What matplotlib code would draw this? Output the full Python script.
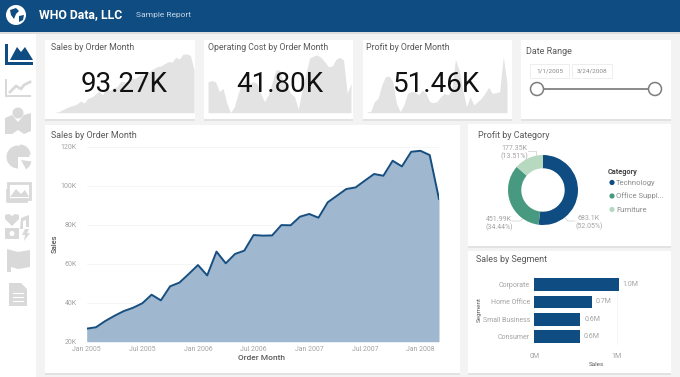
import matplotlib
matplotlib.use("Agg")
from matplotlib import pyplot as plt
from matplotlib.patches import Rectangle, Circle, Polygon, Wedge

plt.rcParams["font.family"] = ["Roboto", "DejaVu Sans"]

W, H = 680, 377
BLUE = "#0F4C81"
TITLE = "#5a5a5a"
TICK = "#a3a3a3"
ICON = "#d9d9d9"
SPARK = "#e3e3e3"

# monthly sales in thousands, Jan 2005 to Mar 2008
sales = [26.7, 27.4, 30.6, 33.3, 35.7, 37.4, 39.7, 44.1, 41.2, 48.4, 50.3, 54.7, 59.3,
         54.0, 66.2, 60.2, 65.0, 66.7, 74.7, 74.4, 74.5, 79.8, 79.7, 84.1, 85.5, 83.6,
         91.5, 94.9, 98.3, 99.1, 102.6, 106.0, 105.1, 112.8, 109.9, 117.4, 117.9, 115.7, 93.2]
# sparkline heights (no axis shown there)
cost = [93, 96, 93, 63, 73, 28, 0, 18, 58, 88, 98, 88, 93, 88, 58, 33, 53, 88, 128, 128,
        93, 78, 58, 48, 10, 68, 118, 163, 170, 173, 166, 153, 138, 140, 160, 166, 158, 58, 88]
profit = [2, 4, 33, 43, 83, 108, 110, 93, 28, 3, 23, 58, 63, 63, 53, 68, 58, 33, 30, 33,
          48, 58, 53, 68, 160, 128, 68, 18, 48, 23, 33, 43, 58, 76, 58, 60, 63, 168, 88]

kpi_titles = ["Sales by Order Month", "Operating Cost by Order Month", "Profit by Order Month"]
kpi_values = ["93.27K", "41.80K", "51.46K"]

month_ticks = [0, 6, 12, 18, 24, 30, 36]
month_labels = ["Jan 2005", "Jul 2005", "Jan 2006", "Jul 2006", "Jan 2007", "Jul 2007", "Jan 2008"]
sales_ticks = [20, 40, 60, 80, 100, 120]
sales_labels = ["20K", "40K", "60K", "80K", "100K", "120K"]

categories = ["Technology", "Office Suppl...", "Furniture"]
cat_profit = [683.1, 451.99, 177.35]
cat_colors = [BLUE, "#479A80", "#B7D9C0"]

segments = ["Corporate", "Home Office", "Small Business", "Consumer"]
seg_sales = [1.03, 0.70, 0.56, 0.55]
seg_labels = ["1.0M", "0.7M", "0.6M", "0.6M"]

fig = plt.figure(figsize=(W / 100, H / 100), dpi=100, facecolor="#f3f3f3")


def panel(x0, y0, x1, y1):
    # axes placed by pixel box, y measured from the top of the image
    a = fig.add_axes([x0 / W, 1 - y1 / H, (x1 - x0) / W, (y1 - y0) / H])
    a.patch.set_alpha(0)
    return a


bg = panel(0, 0, W, H)
bg.set_xlim(0, W)
bg.set_ylim(H, 0)
bg.axis("off")

# sidebar and header
bg.add_patch(Rectangle((0, 0), 36, H, fc="white", ec="none"))
bg.add_patch(Rectangle((0, 32), W, 2, fc="#dddddd", ec="none"))
bg.add_patch(Rectangle((0, 0), W, 32, fc=BLUE, ec="none"))
bg.add_patch(Circle((16, 15), 10, fc="white", ec="none"))
bg.add_patch(Polygon([[10, 10], [16, 8], [19, 11], [16, 14], [14, 19], [11, 15]], fc=BLUE, ec="none"))
bg.add_patch(Polygon([[19, 16], [24, 15], [23, 20], [19, 22]], fc=BLUE, ec="none"))
bg.text(39, 15, "WHO Data, LLC", color="white", fontsize=8.8, fontweight="bold", va="center")
bg.text(136, 15.5, "Sample Report", color="#c6d6e6", fontsize=6, va="center")

# cards
cards = [(45, 40, 195, 119), (204, 40, 353, 119), (363, 40, 512, 119), (521, 40, 671, 119),
         (45, 125, 460, 373), (468, 124, 671, 246), (468, 251, 671, 373)]
for x0, y0, x1, y1 in cards:
    bg.add_patch(Rectangle((x0, y0 + 1.5), x1 - x0, y1 - y0, fc="#e2e2e2", ec="none"))
    bg.add_patch(Rectangle((x0, y0), x1 - x0, y1 - y0, fc="white", ec="none"))

# sidebar icons
bg.add_patch(Polygon([[5, 44], [8, 44], [8, 62], [33, 62], [33, 65], [5, 65]], fc=BLUE, ec="none"))
bg.add_patch(Polygon([[10, 60], [17, 47], [21, 52], [25, 47], [33, 60]], fc=BLUE, ec="none"))
bg.add_patch(Polygon([[5, 79], [7, 79], [7, 95], [31, 95], [31, 97], [5, 97]], fc=ICON, ec="none"))
bg.plot([10, 16, 21, 24, 30], [92, 86, 89, 85, 82], color=ICON, lw=2)
bg.add_patch(Polygon([[5, 118], [12, 115], [18, 122], [24, 115], [31, 113], [31, 131], [24, 134],
                     [18, 130], [12, 134], [5, 134]], fc=ICON, ec="none"))
bg.add_patch(Circle((18, 113), 5.5, fc=ICON, ec="none"))
bg.add_patch(Wedge((18, 157), 11.5, 90, 360, fc=ICON, ec="none"))
bg.add_patch(Wedge((21, 160), 10.5, 8, 62, fc=ICON, ec="none"))
bg.add_patch(Wedge((20, 155), 10.5, 270, 360, fc=ICON, ec="none"))
bg.add_patch(Rectangle((8, 183), 22, 16, fc="white", ec=ICON, lw=2))
bg.add_patch(Polygon([[10, 197], [16, 189], [21, 194], [25, 190], [29, 197]], fc=ICON, ec="none"))
bg.plot([7, 7, 26], [190, 201, 201], color=ICON, lw=2)
bg.add_patch(Polygon([[5, 215], [9, 214], [12, 216], [15, 214], [19, 215], [19, 219], [12, 226], [5, 219]],
                     fc=ICON, ec="none"))
bg.add_patch(Polygon([[21, 218], [29, 215], [29, 227], [26, 227], [26, 220], [23, 221], [23, 229], [20, 229]],
                     fc=ICON, ec="none"))
bg.add_patch(Rectangle((5, 228), 14, 11, fc=ICON, ec="none"))
bg.add_patch(Circle((12, 233.5), 2.5, fc="white", ec="none"))
bg.add_patch(Polygon([[25, 229], [29, 229], [27, 233], [30, 233], [24, 241], [25, 235], [22, 235]],
                     fc=ICON, ec="none"))
bg.add_patch(Polygon([[7, 249], [18, 252], [30, 250], [30, 267], [18, 269], [11, 267], [11, 272], [7, 272]],
                     fc=ICON, ec="none"))
bg.add_patch(Polygon([[9, 283], [21, 283], [27, 289], [27, 306], [9, 306]], fc=ICON, ec="none"))
for yy in [293, 297, 301]:
    bg.plot([13, 23], [yy, yy], color="white", lw=0.8)

# KPI cards with sparklines behind the number
spark_boxes = [(55, 194), (208, 351), (367, 507)]
spark_series = [sales, cost, profit]
spark_limits = [(26, 124), (0, 188), (0, 188)]
title_x = [51, 208, 366]
for i in range(3):
    x0, x1 = spark_boxes[i]
    a = panel(x0, 50, x1, 112.7)
    a.fill_between(range(len(spark_series[i])), spark_series[i], spark_limits[i][0], color=SPARK, lw=0)
    a.set_xlim(0, len(spark_series[i]) - 1)
    a.set_ylim(*spark_limits[i])
    a.axis("off")
    a.text(0.5, 0.45, kpi_values[i], transform=a.transAxes, ha="center", va="center",
           fontsize=20, color="#111111")
    bg.text(title_x[i], 47, kpi_titles[i], color=TITLE, fontsize=6.3, va="center")

# date range slicer
bg.text(526, 52, "Date Range", color=TITLE, fontsize=6.5, va="center")
bg.add_patch(Rectangle((530, 64), 39, 14, fc="white", ec="#eeeeee", lw=0.7))
bg.add_patch(Rectangle((572, 64), 40, 14, fc="white", ec="#eeeeee", lw=0.7))
bg.text(549.5, 71, "1/1/2005", color="#888888", fontsize=4.6, ha="center", va="center")
bg.text(592, 71, "3/24/2008", color="#888888", fontsize=4.6, ha="center", va="center")
bg.plot([537, 655], [89, 89], color="#8a8a8a", lw=1.4)
for cx in [537, 655]:
    bg.add_patch(Circle((cx, 89), 6.5, fc="white", ec="#7d7d7d", lw=1.1, zorder=3))

# main area chart
bg.text(51, 135, "Sales by Order Month", color=TITLE, fontsize=6.5, va="center")
ax = panel(86.7, 146.7, 439, 341.7)
months = list(range(len(sales)))
ax.fill_between(months, sales, 20, color="#9FB7CF", lw=0)
ax.plot(months, sales, color="#174E80", lw=1.4)
ax.set_xlim(0, 38)
ax.set_ylim(20, 120)
ax.set_xticks(month_ticks, month_labels)
ax.set_yticks(sales_ticks, sales_labels)
ax.tick_params(length=0, labelsize=5, labelcolor=TICK)
ax.tick_params(axis="x", pad=3)
ax.tick_params(axis="y", pad=7)
ax.grid(axis="y", color="#f4f4f4", lw=0.6)
ax.set_axisbelow(True)
for s in ax.spines.values():
    s.set_visible(False)
bg.text(55, 244, "Sales", color=TITLE, fontsize=5.5, rotation=90, ha="center", va="center", fontweight="medium")
bg.text(261, 358, "Order Month", color=TITLE, fontsize=6, ha="center", va="center", fontweight="medium")

# donut
bg.text(478, 135, "Profit by Category", color=TITLE, fontsize=6.5, va="center")
ax2 = panel(508, 155, 578, 225)
ax2.pie(cat_profit, colors=cat_colors, startangle=90, counterclock=False, radius=1,
        wedgeprops={"width": 0.38, "linewidth": 0})
ax2.set_xlim(-1, 1)
ax2.set_ylim(-1, 1)
bg.plot([528, 536, 536], [151, 151, 155], color="#cccccc", lw=0.5)
bg.plot([512, 520, 525], [221, 221, 217], color="#cccccc", lw=0.5)
bg.plot([575, 568, 565], [221, 221, 218], color="#cccccc", lw=0.5)
bg.text(514, 153, "177.35K\n(13.51%)", color=TICK, fontsize=5, ha="center", va="center", linespacing=1.15)
bg.text(499, 224, "451.99K\n(34.44%)", color=TICK, fontsize=5, ha="center", va="center", linespacing=1.15)
bg.text(589, 223, "683.1K\n(52.05%)", color=TICK, fontsize=5, ha="center", va="center", linespacing=1.15)
bg.text(608, 171.5, "Category", color="#444444", fontsize=5.3, fontweight="bold", va="center")
for i in range(3):
    yy = 182.5 + i * 13.5
    bg.add_patch(Circle((612, yy), 2.6, fc=cat_colors[i], ec="none"))
    bg.text(616, yy, categories[i], color="#8a8a8a", fontsize=5.5, va="center")

# segment bars
bg.text(476, 260, "Sales by Segment", color=TITLE, fontsize=6.5, va="center")
ax3 = panel(534.3, 276.1, 634.3, 345)
ypos = list(range(len(segments)))
ax3.barh(ypos, seg_sales, height=0.74, color=BLUE)
ax3.set_xlim(0, 100 / 82.4)
ax3.set_ylim(3.5, -0.5)
ax3.set_yticks(ypos, segments)
ax3.set_xticks([0, 1], ["0M", "1M"])
ax3.tick_params(length=0, labelsize=5, labelcolor=TICK)
ax3.tick_params(axis="x", pad=6)
ax3.tick_params(axis="y", pad=3)
ax3.grid(axis="x", color="#f4f4f4", lw=0.6)
ax3.set_axisbelow(True)
for s in ax3.spines.values():
    s.set_visible(False)
for i in ypos:
    ax3.text(seg_sales[i] + 0.045, i, seg_labels[i], color=TICK, fontsize=5, va="center")
bg.text(479, 310, "Segment", color=TITLE, fontsize=4.5, rotation=90, ha="center", va="center")
bg.text(596, 365, "Sales", color=TITLE, fontsize=4.5, ha="center", va="center")

fig.savefig("out.png", dpi=100)
